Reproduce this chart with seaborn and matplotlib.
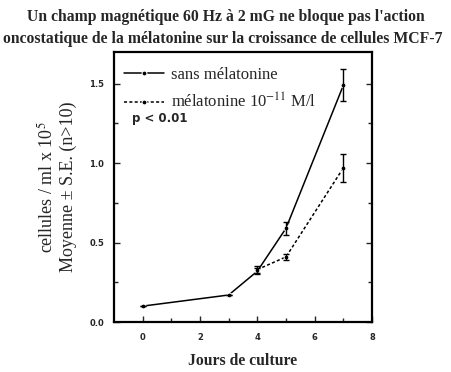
import matplotlib
matplotlib.use("Agg")
import matplotlib.pyplot as plt
import pandas as pd
import seaborn as sns

sns.set_theme(style="white")
plt.rcParams["font.family"] = ["Liberation Serif", "DejaVu Serif"]
plt.rcParams["mathtext.fontset"] = "stix"

# ---- data ----
days_sans = [0, 3, 4, 5, 7]
cells_sans = [0.10, 0.17, 0.32, 0.59, 1.49]
err_sans = [0.0, 0.0, 0.02, 0.04, 0.10]

days_mel = [4, 5, 7]
cells_mel = [0.33, 0.41, 0.97]
err_mel = [0.02, 0.02, 0.09]

label_sans = "sans mélatonine"
label_mel = "mélatonine 10$^{-11}$ M/l"

df = pd.concat([
    pd.DataFrame({"jour": days_sans, "cellules": cells_sans, "serie": label_sans}),
    pd.DataFrame({"jour": days_mel, "cellules": cells_mel, "serie": label_mel}),
])

fig = plt.figure(figsize=(4.51, 3.72), dpi=100)
ax = fig.add_axes([114 / 451, 1 - 322 / 372, (372 - 114) / 451, (322 - 52) / 372])

sns.lineplot(data=df, x="jour", y="cellules", hue="serie", style="serie",
             palette=["black", "black"], dashes=[(None, None), (2, 1.5)],
             markers=["o", "o"], markersize=3.5, linewidth=1.1,
             ax=ax, legend=True)

ax.errorbar(days_sans, cells_sans, yerr=err_sans, fmt="none", ecolor="black",
            elinewidth=1, capsize=2.5, capthick=1)
ax.errorbar(days_mel, cells_mel, yerr=err_mel, fmt="none", ecolor="black",
            elinewidth=1, capsize=2.5, capthick=1)

ax.set_xlim(-1, 8)
ax.set_ylim(0, 1.7)
ax.set_xticks([0, 2, 4, 6, 8])
ax.set_yticks([0.0, 0.5, 1.0, 1.5])
ax.set_yticks([0.25, 0.75, 1.25], minor=True)
ax.set_xticks([1, 3, 5, 7], minor=True)
ax.set_xticklabels(["0", "2", "4", "6", "8"], fontfamily="DejaVu Sans",
                   fontweight="bold", fontsize=6)
ax.set_yticklabels(["0.0", "0.5", "1.0", "1.5"], fontfamily="DejaVu Sans",
                   fontweight="bold", fontsize=6)
ax.tick_params(which="both", direction="in", length=4, width=1,
               left=True, right=True, bottom=True, top=False)
ax.tick_params(axis="x", pad=8)
ax.tick_params(axis="y", pad=7)
ax.tick_params(which="minor", length=3)

for s in ax.spines.values():
    s.set_visible(True)
    s.set_color("black")
    s.set_linewidth(1.6)

ax.set_xlabel("Jours de culture", fontsize=11.3, fontweight="bold", labelpad=8)
ax.set_ylabel("cellules / ml x 10$^5$\nMoyenne ± S.E. (n>10)", fontsize=13,
              labelpad=9, linespacing=1.2)

leg = ax.legend(loc="upper left", frameon=False, fontsize=12,
                handlelength=2.4, handletextpad=0.4,
                bbox_to_anchor=(-0.02, 1.0), labelspacing=0.55)

ax.text(0.07, 0.74, "p < 0.01", transform=ax.transAxes,
        fontfamily="DejaVu Sans", fontweight="bold", fontsize=8.5)

fig.text(0.5, 0.955, "Un champ magnétique 60 Hz à 2 mG ne bloque pas l'action",
         ha="center", va="center", fontsize=11.3, fontweight="bold")
fig.text(0.495, 0.895, "oncostatique de la mélatonine sur la croissance de cellules MCF-7",
         ha="center", va="center", fontsize=11.3, fontweight="bold")

fig.savefig("out.png", dpi=100, facecolor="white")
